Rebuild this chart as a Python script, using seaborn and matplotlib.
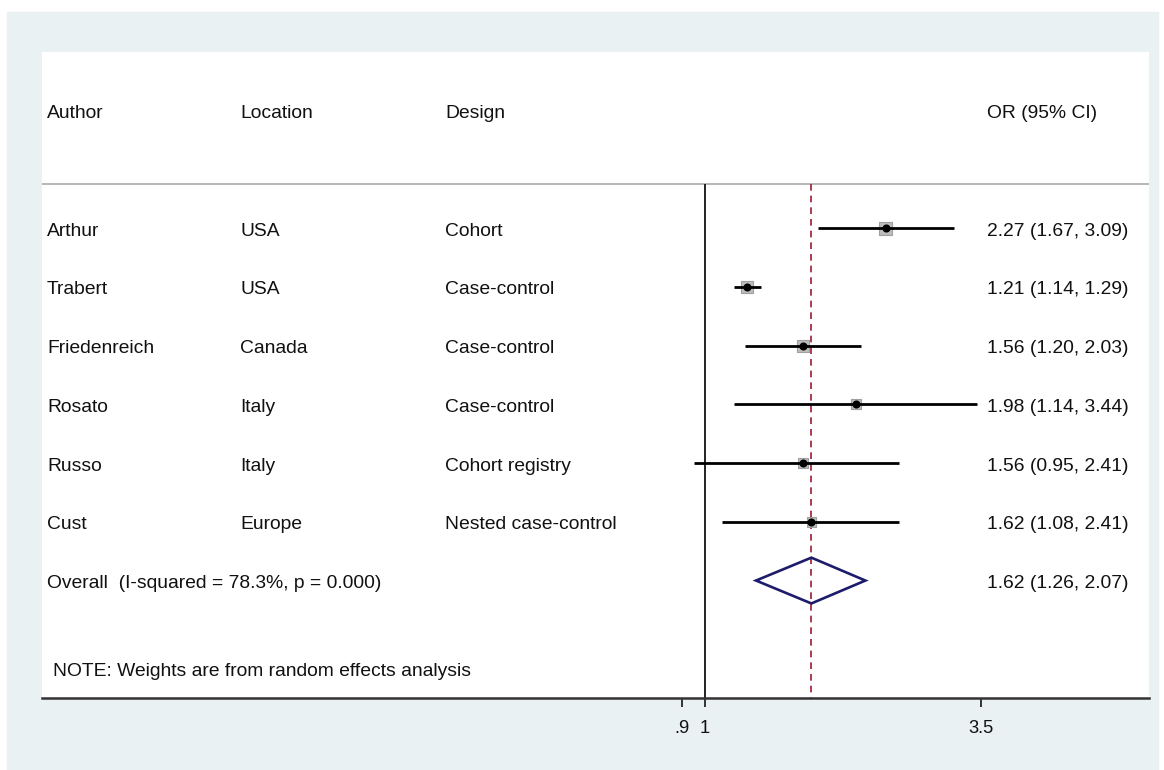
import numpy as np
import pandas as pd
import seaborn as sns
import matplotlib.pyplot as plt
from matplotlib.patches import Rectangle
from matplotlib.transforms import blended_transform_factory
from matplotlib.ticker import NullLocator

# study data
authors = ["Arthur", "Trabert", "Friedenreich", "Rosato", "Russo", "Cust"]
locations = ["USA", "USA", "Canada", "Italy", "Italy", "Europe"]
designs = ["Cohort", "Case-control", "Case-control", "Case-control",
           "Cohort registry", "Nested case-control"]
odds = [2.27, 1.21, 1.56, 1.98, 1.56, 1.62]
lower = [1.67, 1.14, 1.20, 1.14, 0.95, 1.08]
upper = [3.09, 1.29, 2.03, 3.44, 2.41, 2.41]
weights = [22.4, 21.4, 19.1, 13.3, 11.9, 11.9]

overall_or, overall_lo, overall_hi = 1.62, 1.26, 2.07
overall_label = "Overall  (I-squared = 78.3%, p = 0.000)"
note = "NOTE: Weights are from random effects analysis"
headers = ["Author", "Location", "Design", "OR (95% CI)"]
tick_values = [0.9, 1, 3.5]
tick_labels = [".9", "1", "3.5"]

df = pd.DataFrame({"author": authors, "location": locations, "design": designs,
                   "OR": odds, "lo": lower, "hi": upper, "weight": weights})
df["row"] = np.arange(1, len(df) + 1)
overall_row = len(df) + 1

sns.set_style("white")
plt.rcParams["font.family"] = ["Liberation Sans", "DejaVu Sans"]

W, H = 1164, 770
fig = plt.figure(figsize=(W / 100, H / 100), dpi=100)
fig.patch.set_facecolor("white")
fig.patches.append(Rectangle((7 / W, 0), (1158 - 7) / W, 1 - 12 / H,
                             transform=fig.transFigure, color="#e9f1f3", zorder=-5))

ax = fig.add_axes([42 / W, 1 - 698 / H, (1149 - 42) / W, (698 - 52) / H])
ax.set_facecolor("white")
ax.set_xscale("log")
ax.set_xlim(0.0493, 7.50)
ax.set_ylim(9, -2)

txt_color = "#111111"
fs = 13.9
dy = 0.05  # small nudge so text sits like the original

# separator, null line, overall line
ax.axhline(0.25, color="#aaaaaa", lw=1.2)
ax.vlines(1, 0.25, 9, color="#222222", lw=1.4)
ax.vlines(overall_or, 0.25, 9, color="#9b1b30", lw=1.2, linestyles=(0, (4, 3)))

# confidence intervals
ax.hlines(df["row"], df["lo"], df["hi"], color="black", lw=2.0, zorder=3)

# weight boxes
k = 3.91
sns.scatterplot(data=df, x="OR", y="row", size="weight",
                sizes=(df["weight"].min() * k, df["weight"].max() * k),
                marker="s", color="#bdbdbd", edgecolor="#a0a0a0", linewidth=0.8,
                legend=False, ax=ax, zorder=2)
# point estimates
sns.scatterplot(data=df, x="OR", y="row", color="black", s=34, linewidth=0,
                legend=False, ax=ax, zorder=4)

# overall diamond
h = 0.39
ax.fill([overall_lo, overall_or, overall_hi, overall_or],
        [overall_row, overall_row - h, overall_row, overall_row + h],
        fill=False, edgecolor="#1c1c6b", lw=1.9, zorder=5)

# text columns
tr = blended_transform_factory(ax.transAxes, ax.transData)
col_x = [(47 - 42) / 1107, (240 - 42) / 1107, (445 - 42) / 1107, (987 - 42) / 1107]
for x, t in zip(col_x, headers):
    ax.text(x, -1 + dy, t, transform=tr, va="center", ha="left", fontsize=fs, color=txt_color)
for _, r in df.iterrows():
    vals = [r["author"], r["location"], r["design"],
            f"{r['OR']:.2f} ({r['lo']:.2f}, {r['hi']:.2f})"]
    for x, t in zip(col_x, vals):
        ax.text(x, r["row"] + dy, t, transform=tr, va="center", ha="left",
                fontsize=fs, color=txt_color)
ax.text(col_x[0], overall_row + dy, overall_label, transform=tr, va="center",
        ha="left", fontsize=fs, color=txt_color)
ax.text(col_x[3], overall_row + dy,
        f"{overall_or:.2f} ({overall_lo:.2f}, {overall_hi:.2f})",
        transform=tr, va="center", ha="left", fontsize=fs, color=txt_color)
ax.text((53 - 42) / 1107, 8.5 + dy, note, transform=tr, va="center", ha="left",
        fontsize=fs, color=txt_color)

# axes styling
for s in ["top", "left", "right"]:
    ax.spines[s].set_visible(False)
ax.spines["bottom"].set_color("#333333")
ax.spines["bottom"].set_linewidth(1.8)
ax.set_xticks(tick_values)
ax.set_xticklabels(tick_labels)
ax.xaxis.set_minor_locator(NullLocator())
ax.tick_params(axis="x", bottom=True, length=6.5, width=1.4, color="#333333",
               pad=9, labelsize=13.2, labelcolor=txt_color)
ax.set_yticks([])
ax.set_xlabel("")
ax.set_ylabel("")

fig.savefig("out.png", dpi=100)
